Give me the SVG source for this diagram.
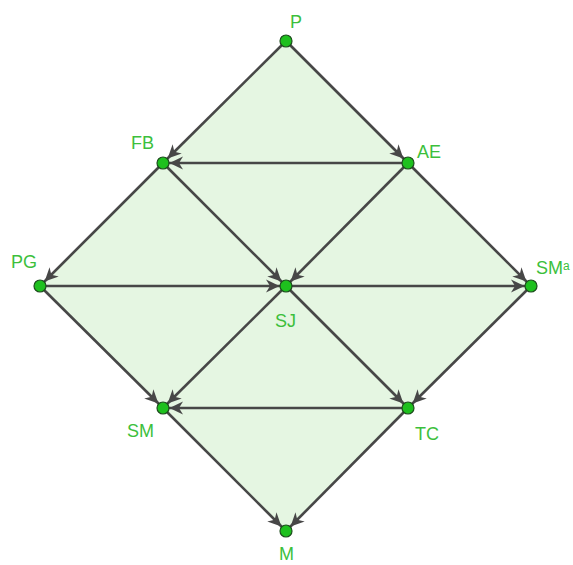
<svg xmlns="http://www.w3.org/2000/svg" width="573" height="565" viewBox="0 0 573 565">
<style>
.e{stroke:#474747;stroke-width:2.6;fill:none;marker-end:url(#ah)}
.n{fill:#1ec01e;stroke:#1d4d1d;stroke-width:1.2}
.l{font-family:"Liberation Sans",Arial,sans-serif;font-size:18px;fill:#3cbf3c}
</style>
<defs>
<marker id="ah" markerUnits="userSpaceOnUse" viewBox="-22 -7 22 14" refX="0" refY="0" markerWidth="22" markerHeight="14" orient="auto">
<path d="M-6.5,0 L-20,-6.5 L-16,0 L-20,6.5 Z" fill="#474747"/>
</marker>
</defs>
<rect width="573" height="565" fill="#fff"/>
<polygon points="286,41 531,286 286,531 40,286" fill="#e5f6e2"/>
<g id="connectors">
<line class="e" x1="286" y1="41" x2="163" y2="163"/>
<line class="e" x1="286" y1="41" x2="408" y2="163"/>
<line class="e" x1="408" y1="163" x2="163" y2="163"/>
<line class="e" x1="163" y1="163" x2="40" y2="286"/>
<line class="e" x1="163" y1="163" x2="286" y2="286"/>
<line class="e" x1="408" y1="163" x2="286" y2="286"/>
<line class="e" x1="408" y1="163" x2="531" y2="286"/>
<line class="e" x1="40" y1="286" x2="286" y2="286"/>
<line class="e" x1="286" y1="286" x2="531" y2="286"/>
<line class="e" x1="40" y1="286" x2="163" y2="408"/>
<line class="e" x1="286" y1="286" x2="163" y2="408"/>
<line class="e" x1="286" y1="286" x2="408" y2="408"/>
<line class="e" x1="531" y1="286" x2="408" y2="408"/>
<line class="e" x1="408" y1="408" x2="163" y2="408"/>
<line class="e" x1="163" y1="408" x2="286" y2="531"/>
<line class="e" x1="408" y1="408" x2="286" y2="531"/>
</g>
<g id="P"><circle class="n" cx="286" cy="41" r="6"/><text class="l" x="290" y="28">P</text></g>
<g id="FB"><circle class="n" cx="163" cy="163" r="6"/><text class="l" x="131" y="149">FB</text></g>
<g id="AE"><circle class="n" cx="408" cy="163" r="6"/><text class="l" x="417" y="158">AE</text></g>
<g id="PG"><circle class="n" cx="40" cy="286" r="6"/><text class="l" x="11" y="268">PG</text></g>
<g id="SJ"><circle class="n" cx="286" cy="286" r="6"/><text class="l" x="275" y="327">SJ</text></g>
<g id="SMa"><circle class="n" cx="531" cy="286" r="6"/><text class="l" x="536" y="274">SM<tspan font-size="12" dy="-4">a</tspan></text></g>
<g id="SM"><circle class="n" cx="163" cy="408" r="6"/><text class="l" x="127" y="437">SM</text></g>
<g id="TC"><circle class="n" cx="408" cy="408" r="6"/><text class="l" x="415" y="440">TC</text></g>
<g id="M"><circle class="n" cx="286" cy="531" r="6"/><text class="l" x="279" y="560" font-size="17">M</text></g>
</svg>
